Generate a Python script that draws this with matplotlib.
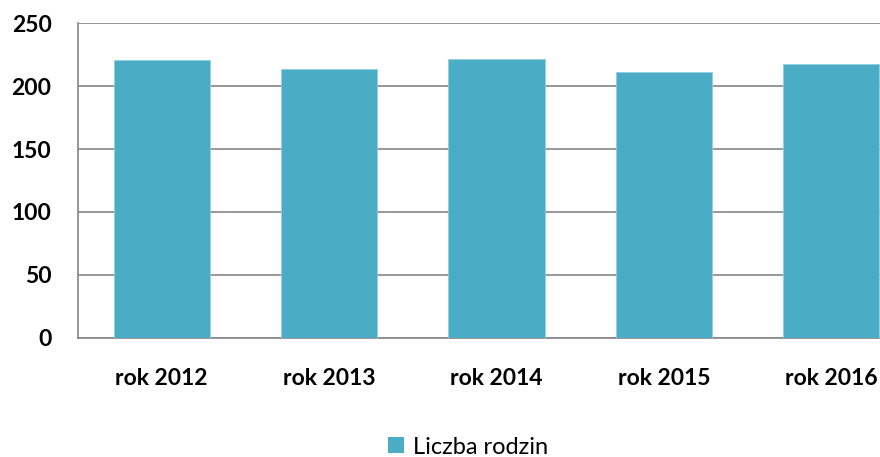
import matplotlib.pyplot as plt
from matplotlib.patches import Patch

# Dane
categories = ['rok 2012', 'rok 2013', 'rok 2014', 'rok 2015', 'rok 2016']
families = [221, 214, 222, 211, 218]
series_name = 'Liczba rodzin'
y_ticks = [0, 50, 100, 150, 200, 250]

bar_color = '#4BACC6'
grid_color = '#868686'

plt.rcParams['font.family'] = ['Lato', 'DejaVu Sans']

fig = plt.figure(figsize=(8.8, 4.57), dpi=100)
ax = fig.add_axes([78 / 880, (457 - 337.7) / 457, 837 / 880, 314.3 / 457])

x = range(len(categories))
ax.bar(x, families, width=0.575, color=bar_color, edgecolor='#8FD0E0',
       linewidth=0.6, zorder=3)

ax.set_xlim(-0.5, len(categories) - 0.5)
ax.set_ylim(0, 250)
ax.set_yticks(y_ticks)
ax.set_xticks(list(x))
ax.set_xticklabels(categories)
ax.yaxis.grid(True, color=grid_color, linewidth=1.2, zorder=0)
ax.set_axisbelow(True)

for side in ['top', 'right']:
    ax.spines[side].set_visible(False)
for side in ['left', 'bottom']:
    ax.spines[side].set_color(grid_color)
    ax.spines[side].set_linewidth(1.2)

ax.tick_params(axis='both', length=0, labelsize=16.5, colors='black')
ax.tick_params(axis='y', pad=19)
ax.tick_params(axis='x', pad=22)
for lbl in ax.get_xticklabels() + ax.get_yticklabels():
    lbl.set_fontweight('bold')

handle = Patch(facecolor=bar_color, edgecolor='none')
fig.legend([handle], [series_name], loc='center',
           bbox_to_anchor=(0.532, 1 - 447 / 457), frameon=False,
           fontsize=17, handlelength=0.65, handleheight=0.65,
           handletextpad=0.4)

fig.savefig('out.png', dpi=100)
